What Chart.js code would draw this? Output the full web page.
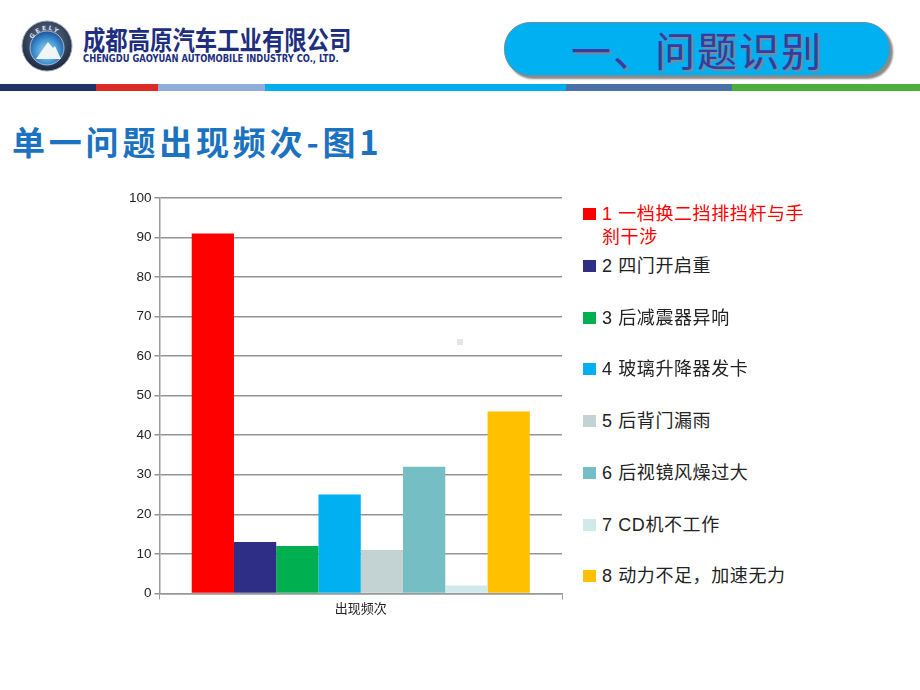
<!DOCTYPE html>
<html>
<head>
<meta charset="utf-8">
<script src="https://cdn.jsdelivr.net/npm/chart.js@4.4.0/dist/chart.umd.min.js"></script>
<style>
  body { margin: 0; background: #fff; }
  #slide { position: relative; width: 920px; height: 690px; overflow: hidden; background: #fff;
           font-family: "Liberation Sans", "Noto Sans CJK SC", sans-serif; }
  .abs { position: absolute; }
  #logo { left: 21px; top: 20px; width: 52px; height: 52px; }
  #cname { left: 83px; top: 24px; font-size: 26px; line-height: 30px; font-weight: bold; color: #1d2f7e;
           font-family: "Noto Sans CJK SC", sans-serif; transform: scaleX(0.86); transform-origin: left; white-space: nowrap; }
  #ename { left: 83px; top: 53px; font-size: 10px; line-height: 11px; font-weight: bold; color: #1d2f7e;
           font-family: "DejaVu Sans Condensed", "Liberation Sans Narrow", sans-serif; white-space: nowrap;
           transform: scaleX(0.93); transform-origin: left; }
  #pill { left: 504px; top: 22px; width: 384px; height: 52px; border-radius: 26px; background: #00b0f0;
          border: 1px solid #6f8f9f; box-shadow: 3px 3px 2px #8a8a8a; }
  #pilltext { left: 504px; top: 22px; width: 386px; height: 54px; line-height: 54px; text-align: center;
              font-size: 40px; color: #3a3aa0; font-family: "Noto Sans CJK SC", sans-serif; font-weight: 400;
              text-shadow: 2px 2px 1px #7a8a9a; letter-spacing: 2px; }
  .stripe { top: 84px; height: 7px; }
  #title { left: 12px; top: 117px; font-size: 33px; font-weight: bold; color: #1a72c0;
           font-family: "Noto Sans CJK SC", serif; white-space: nowrap; letter-spacing: 3.8px; }
  #chartBox { left: 100px; top: 185px; width: 470px; height: 440px; }
  .lg { position: absolute; left: 583px; font-size: 18px; line-height: 23px; color: #222; width: 232px; letter-spacing: 0.6px; }
  .lg .sw { position: absolute; left: 0; top: 5px; width: 13px; height: 12px; }
  .lg .tx { margin-left: 19px; display: block; }
  #dot { left: 457px; top: 339px; width: 6px; height: 6px; background: #e6e6e6; }
</style>
</head>
<body>
<div id="slide">
  <svg id="logo" class="abs" viewBox="0 0 52 52">
    <defs>
      <radialGradient id="ring" cx="50%" cy="40%" r="60%">
        <stop offset="0%" stop-color="#6a7a96"/><stop offset="100%" stop-color="#1c2840"/>
      </radialGradient>
      <radialGradient id="disc" cx="50%" cy="60%" r="60%">
        <stop offset="0%" stop-color="#a8dcf4"/><stop offset="60%" stop-color="#3f93d2"/><stop offset="100%" stop-color="#1a4f96"/>
      </radialGradient>
      <path id="arc" d="M 10 26 A 16 16 0 0 1 42 26"/>
    </defs>
    <circle cx="26" cy="26" r="25" fill="url(#ring)" stroke="#9aa4b4" stroke-width="1"/>
    <circle cx="26" cy="28" r="17" fill="url(#disc)" stroke="#c8d0dc" stroke-width="0.8"/>
    <polygon points="15,39 27,22 32,28 34,26 40,39" fill="#f2f5f8"/>
    <text font-size="6" font-weight="bold" fill="#d8dee8" letter-spacing="2" font-family="DejaVu Sans"><textPath href="#arc" startOffset="14%">GEELY</textPath></text>
  </svg>
  <div id="cname" class="abs">成都高原汽车工业有限公司</div>
  <div id="ename" class="abs">CHENGDU GAOYUAN AUTOMOBILE INDUSTRY CO., LTD.</div>
  <div id="pill" class="abs"></div>
  <div id="pilltext" class="abs">一、问题识别</div>
  <div class="abs stripe" style="left:0;width:96px;background:#1f3366"></div>
  <div class="abs stripe" style="left:96px;width:62px;background:#dc2a24"></div>
  <div class="abs stripe" style="left:158px;width:107px;background:#8eaddb"></div>
  <div class="abs stripe" style="left:265px;width:301px;background:#00aeec"></div>
  <div class="abs stripe" style="left:566px;width:166px;background:#4a70aa"></div>
  <div class="abs stripe" style="left:732px;width:188px;background:#4caf3c"></div>
  <div id="title" class="abs">单一问题出现频次-图1</div>
  <div id="chartBox" class="abs"><canvas id="myChart"></canvas></div>
  <div id="dot" class="abs"></div>
  <div id="legend"></div>
</div>
<script>
const categories = ['出现频次'];
const seriesNames = ['1 一档换二挡排挡杆与手刹干涉', '2 四门开启重', '3 后减震器异响', '4 玻璃升降器发卡',
                     '5 后背门漏雨', '6 后视镜风燥过大', '7 CD机不工作', '8 动力不足，加速无力'];
const seriesValues = [91, 13, 12, 25, 11, 32, 2, 46];
const seriesColors = ['#ff0000', '#2e2e87', '#00b050', '#00b0f0', '#c3d3d3', '#75bec4', '#d0e9ea', '#ffc000'];
const yTicks = [0, 10, 20, 30, 40, 50, 60, 70, 80, 90, 100];

const ctx = document.getElementById('myChart').getContext('2d');
const myChart = new Chart(ctx, {
    type: 'bar',
    data: {
        labels: categories,
        datasets: seriesNames.map((name, i) => ({
            label: name,
            data: [seriesValues[i]],
            backgroundColor: seriesColors[i],
            borderWidth: 0,
            barPercentage: 1,
            categoryPercentage: 0.84
        }))
    },
    options: {
        responsive: true,
        maintainAspectRatio: false,
        animation: false,
        layout: { padding: { top: 13, right: 8, left: 26, bottom: 6 } },
        plugins: {
            legend: { display: false },
            title: { display: false },
            tooltip: { enabled: false }
        },
        scales: {
            x: {
                grid: { display: true, drawOnChartArea: false, drawTicks: true, tickLength: 6, color: '#999', offset: true },
                border: { color: '#999', width: 1.5 },
                ticks: { color: '#222', font: { size: 13, family: '"Liberation Sans", "Noto Sans CJK SC"' }, padding: 2 }
            },
            y: {
                min: yTicks[0],
                max: yTicks[yTicks.length - 1],
                afterBuildTicks: axis => { axis.ticks = yTicks.map(v => ({ value: v })); },
                grid: { color: '#949494', lineWidth: 1.5, tickLength: 5 },
                border: { color: '#999', width: 1.5 },
                ticks: { color: '#222', font: { size: 13.5, family: '"Liberation Sans", "Noto Sans CJK SC"' }, padding: 3 }
            }
        }
    }
});

// legend built from the series arrays
const legend = document.getElementById('legend');
seriesNames.forEach((name, i) => {
    let item = document.createElement('div');
    item.className = 'lg';
    item.style.top = (i === 0 ? 203 : 255 + (i - 1) * 51.7) + 'px';
    if (i === 0) item.style.color = '#ff0000';
    item.innerHTML = '<span class="sw" style="background:' + seriesColors[i] + '"></span><span class="tx">' + name + '</span>';
    legend.appendChild(item);
});
</script>
</body>
</html>
